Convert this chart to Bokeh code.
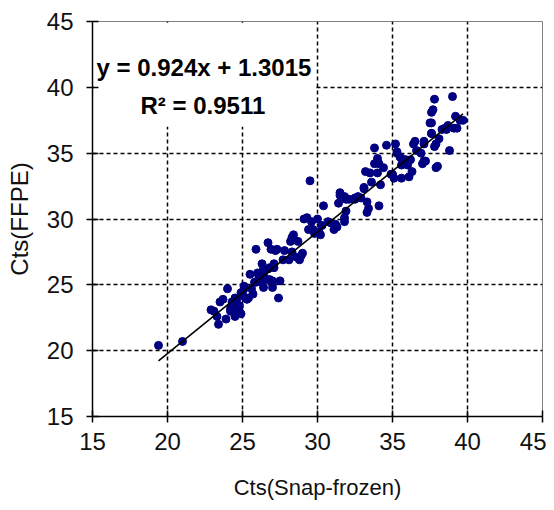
from bokeh.plotting import figure
from bokeh.models import FixedTicker, BoxAnnotation, Label, Range1d
from bokeh.embed import file_html
from bokeh.resources import INLINE

# Data (Ct values)
x_snap = [
    19.4, 21.0, 23.1, 23.3, 23.4, 23.5, 23.9, 24.0, 24.2, 24.3, 24.5, 24.8, 24.9, 25.1, 25.3, 25.5, 25.7, 25.9, 26.1, 26.4,
    29.5, 30.4, 31.5, 31.9, 32.5, 29.3, 30.0, 30.9, 31.3, 31.8, 29.4, 29.8, 30.2, 28.3, 28.2, 28.7, 28.9, 28.8, 26.7, 25.9,
    26.9, 27.2, 27.8, 28.3, 27.7, 28.1, 26.3, 26.4, 27.1, 26.2, 26.8, 27.5, 26.4, 27.0, 27.4, 25.1, 24.9, 24.5, 25.4,
    37.6, 37.5, 37.6, 36.5, 37.1, 34.6, 35.2, 33.8, 35.3, 35.5, 35.9, 36.2, 36.6, 37.2, 38.0, 34.0, 34.1, 35.6, 36.3, 34.9,
    35.1, 35.6, 33.2, 33.5, 34.0, 33.6, 34.2, 33.1, 31.5, 31.8, 32.1, 32.5, 32.9, 31.4, 33.3, 33.4, 34.1, 33.3, 31.9, 31.8, 31.2,
    39.0, 37.8, 37.7, 39.2, 39.7, 37.6, 38.6, 39.1, 37.6, 38.1, 37.9, 37.1, 37.8, 38.8, 37.1, 37.9,
    24.6, 24.7, 24.9, 25.0, 25.2, 25.6, 25.8, 26.0, 26.2, 26.3, 26.5, 26.6, 26.7, 26.8, 27.0, 27.1, 27.3, 28.4, 28.6, 29.0,
    29.1, 29.6, 29.7, 30.1, 30.3, 30.7, 31.1, 32.7, 33.1, 33.8, 34.4, 35.0, 35.3, 35.6, 36.0, 36.1, 36.4, 36.9, 37.0, 38.3,
    38.5, 38.7, 39.3, 39.5, 24.4, 24.2, 23.7, 22.9,
]
y_ffpe = [
    20.4, 20.7, 23.0, 22.6, 22.0, 23.7, 22.4, 24.7, 23.0, 23.7, 22.6, 23.4, 24.2, 24.7, 23.9, 25.8, 24.3, 25.2, 25.6, 25.8,
    32.9, 31.0, 31.8, 31.5, 31.6, 30.1, 30.0, 29.7, 29.4, 29.8, 29.2, 28.9, 28.8, 28.6, 28.3, 28.3, 27.2, 26.9, 28.2, 27.7,
    27.7, 27.6, 27.6, 27.5, 26.9, 26.9, 26.6, 26.2, 26.3, 25.7, 25.4, 25.3, 24.8, 24.8, 24.0, 24.9, 24.4, 24.0, 24.0,
    38.1, 37.3, 36.5, 35.9, 35.9, 35.6, 35.7, 35.4, 35.1, 34.7, 34.5, 34.5, 35.2, 34.4, 34.0, 34.6, 34.2, 34.1, 33.6, 33.4,
    33.1, 33.1, 33.6, 33.5, 33.5, 32.8, 32.6, 32.3, 32.0, 31.7, 31.5, 31.5, 31.6, 31.2, 31.3, 30.8, 31.0, 30.5, 30.6, 30.1, 29.6,
    39.3, 39.1, 38.3, 37.8, 37.5, 37.3, 36.8, 36.9, 36.5, 36.1, 35.7, 35.7, 35.5, 35.2, 34.4, 33.9,
    23.8, 23.2, 22.8, 24.4, 24.0, 24.7, 25.2, 25.9, 25.5, 25.2, 26.1, 25.4, 26.2, 26.3, 25.3, 26.6, 27.7, 28.8, 27.1, 27.4,
    30.0, 29.8, 29.2, 29.0, 29.5, 29.8, 29.2, 31.7, 32.4, 34.2, 33.9, 33.4, 35.0, 34.6, 34.1, 33.2, 35.7, 35.0, 34.2, 36.8,
    36.9, 37.1, 36.9, 37.5, 23.1, 23.2, 23.9, 23.1,
]
slope = 0.924
intercept = 1.3015
r_squared = 0.9511
ticks = [15, 20, 25, 30, 35, 40, 45]
grid_ticks = [20, 25, 30, 35, 40]
x_title = "Cts(Snap-frozen)"
y_title = "Cts(FFPE)"

FONT = "Liberation Sans"

p = figure(width=546, height=502, output_backend="svg", toolbar_location=None,
           x_range=Range1d(15, 45), y_range=Range1d(15, 45),
           min_border_left=92, min_border_right=4, min_border_top=21, min_border_bottom=84)
p.background_fill_color = "white"
p.border_fill_color = "white"
p.outline_line_color = "#808080"
p.outline_line_width = 1

for ax in (p.xaxis, p.yaxis):
    ax.ticker = FixedTicker(ticks=ticks)
    ax.minor_tick_line_color = None
    ax.major_tick_in = 6
    ax.major_tick_out = 6
    ax.major_tick_line_color = "black"
    ax.major_tick_line_width = 1.5
    ax.axis_line_color = "black"
    ax.axis_line_width = 1.5
    ax.major_label_text_font = FONT
    ax.major_label_text_font_size = "24px"
    ax.major_label_text_color = "#111111"
    ax.axis_label_text_font = FONT
    ax.axis_label_text_font_style = "normal"
    ax.axis_label_text_color = "#111111"

p.xaxis.axis_label = x_title
p.yaxis.axis_label = y_title
p.xaxis.axis_label_text_font_size = "22px"
p.yaxis.axis_label_text_font_size = "24px"
p.xaxis.major_label_standoff = 10
p.yaxis.major_label_standoff = 13
p.xaxis.axis_label_standoff = 22
p.yaxis.axis_label_standoff = 11

for g in (p.xgrid, p.ygrid):
    g.ticker = FixedTicker(ticks=grid_ticks)
    g.grid_line_color = "black"
    g.grid_line_dash = "4 3"
    g.grid_line_width = 1.5

# white box behind the equation text
box = BoxAnnotation(left=15.1, right=29.9, bottom=37.0, top=44.9,
                    fill_color="white", fill_alpha=1.0, line_color=None, level="underlay")
p.add_layout(box)

p.scatter(x_snap, y_ffpe, size=8, color="#000080", line_color="#000080")

x0, x1 = min(x_snap), max(x_snap)
p.line([x0, x1], [slope * x0 + intercept, slope * x1 + intercept], line_color="black", line_width=1.6)

p.add_layout(Label(x=15.27, y=41.5, text=f"y = {slope}x + {intercept}", text_font=FONT,
                   text_font_size="24px", text_font_style="bold", text_color="black",
                   text_baseline="alphabetic"))
p.add_layout(Label(x=18.2, y=38.65, text=f"R\u00b2 = {r_squared}", text_font=FONT,
                   text_font_size="24px", text_font_style="bold", text_color="black",
                   text_baseline="alphabetic"))

open("out.html", "w").write(file_html(p, INLINE))
